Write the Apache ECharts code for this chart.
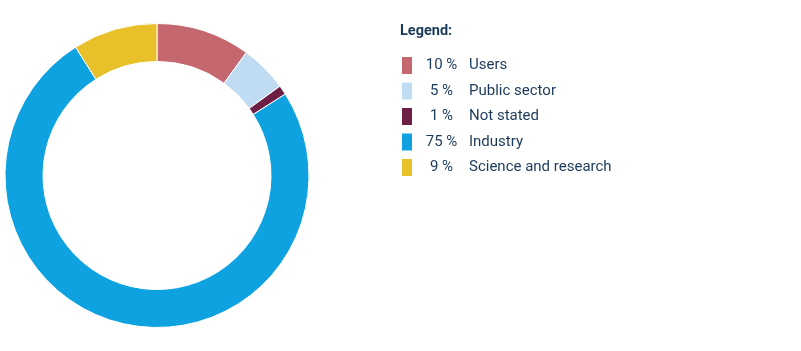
<!DOCTYPE html>
<html>
<head>
<meta charset="utf-8">
<script src="https://cdn.jsdelivr.net/npm/echarts@6/dist/echarts.min.js"></script>
<style>
  html, body { margin: 0; padding: 0; background: #fff; }
  #chart { width: 801px; height: 351px; }
</style>
</head>
<body>
<div id="chart"></div>
<script>
const categories = ['Users', 'Public sector', 'Not stated', 'Industry', 'Science and research'];
const shares = [10, 5, 1, 75, 9];
const colors = ['#c5676e', '#bfdcf3', '#6d1f45', '#0ea2e0', '#e8c02a'];

const textColor = '#1b3a5a';
const font = 'Roboto, "Open Sans", sans-serif';

const chart = echarts.init(document.getElementById('chart'));

chart.setOption({
  animation: false,
  title: {
    text: 'Legend:',
    left: 395,
    top: 19,
    textStyle: { color: textColor, fontSize: 14.5, fontWeight: 'bold', fontFamily: font }
  },
  legend: {
    orient: 'vertical',
    left: 400,
    top: 55,
    padding: 0,
    icon: 'path://M0,0h12v19h-12z',
    itemWidth: 12,
    itemHeight: 19,
    itemGap: 4.5,
    selectedMode: false,
    formatter: name => {
      const i = categories.indexOf(name);
      return '{p|' + shares[i] + ' %}{n|' + name + '}';
    },
    textStyle: {
      color: textColor,
      fontFamily: font,
      fontSize: 15,
      lineHeight: 19,
      rich: {
        p: { width: 47, align: 'right', color: textColor, fontSize: 15, lineHeight: 19, fontFamily: font },
        n: { padding: [0, 0, 0, 4], color: textColor, fontSize: 15, lineHeight: 19, fontFamily: font }
      }
    }
  },
  series: [{
    type: 'pie',
    center: [157, 175.5],
    radius: [114, 152],
    startAngle: 90,
    clockwise: true,
    silent: true,
    label: { show: false },
    labelLine: { show: false },
    itemStyle: { borderColor: '#fff', borderWidth: 1 },
    data: categories.map((name, i) => ({
      name: name,
      value: shares[i],
      itemStyle: { color: colors[i] }
    }))
  }]
});
</script>
</body>
</html>
